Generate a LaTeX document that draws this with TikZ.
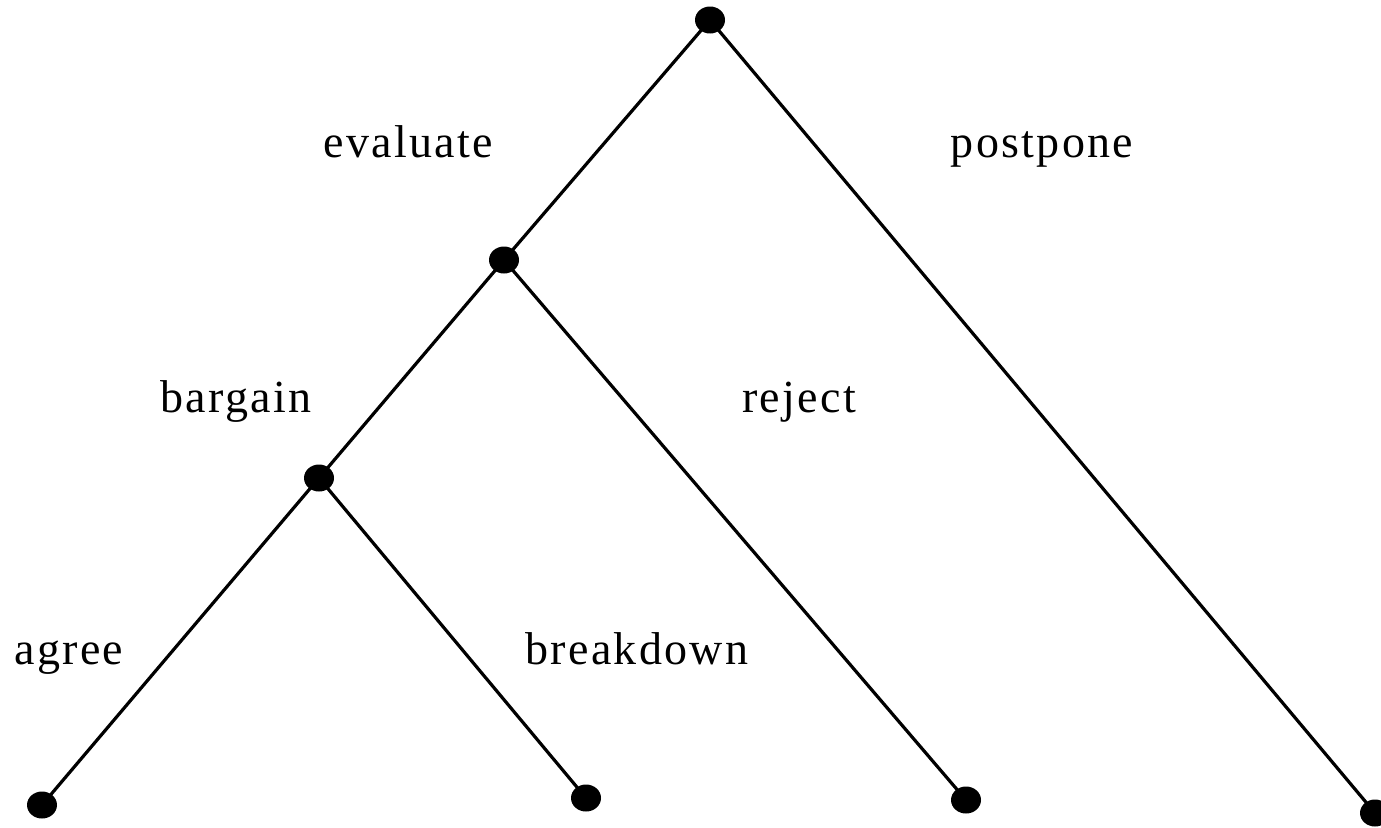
\documentclass[tikz,border=0pt]{standalone}
\usepackage{fontspec}
\usetikzlibrary{shapes.geometric}
\setmainfont{Liberation Serif}[LetterSpace=5]
\begin{document}
\begin{tikzpicture}[x=1pt,y=-1pt,
  dot/.style={ellipse,fill=black,inner sep=0pt,minimum width=30pt,minimum height=27pt},
  edge/.style={line width=3.2pt,shorten <=-1pt,shorten >=-1pt},
  lbl/.style={anchor=base,inner sep=0pt,font=\fontsize{46}{50}\selectfont}]
\useasboundingbox (0,0) rectangle (1381,827);
\path (710,20) coordinate (r) (504,260) coordinate (a) (319,478) coordinate (b)
  (42,805) coordinate (l1) (586,798) coordinate (l2) (966,800) coordinate (l3) (1375,813) coordinate (l4);
\draw[edge] (r) -- (a);
\draw[edge] (r) -- (l4);
\draw[edge] (a) -- (b);
\draw[edge] (a) -- (l3);
\draw[edge] (b) -- (l1);
\draw[edge] (b) -- (l2);
\foreach \p in {r,a,b,l1,l2,l3,l4} \node[dot] (d\p) at (\p) {};
\node[lbl] (t1) at (408,157) {evaluate};
\node[lbl] (t2) at (1042,157) {postpone};
\node[lbl] (t3) at (236,412) {bargain};
\node[lbl] (t4) at (799,412) {reject};
\node[lbl] (t5) at (69,664) {agree};
\node[lbl] (t6) at (637,664) {breakdown};
\end{tikzpicture}
\end{document}
